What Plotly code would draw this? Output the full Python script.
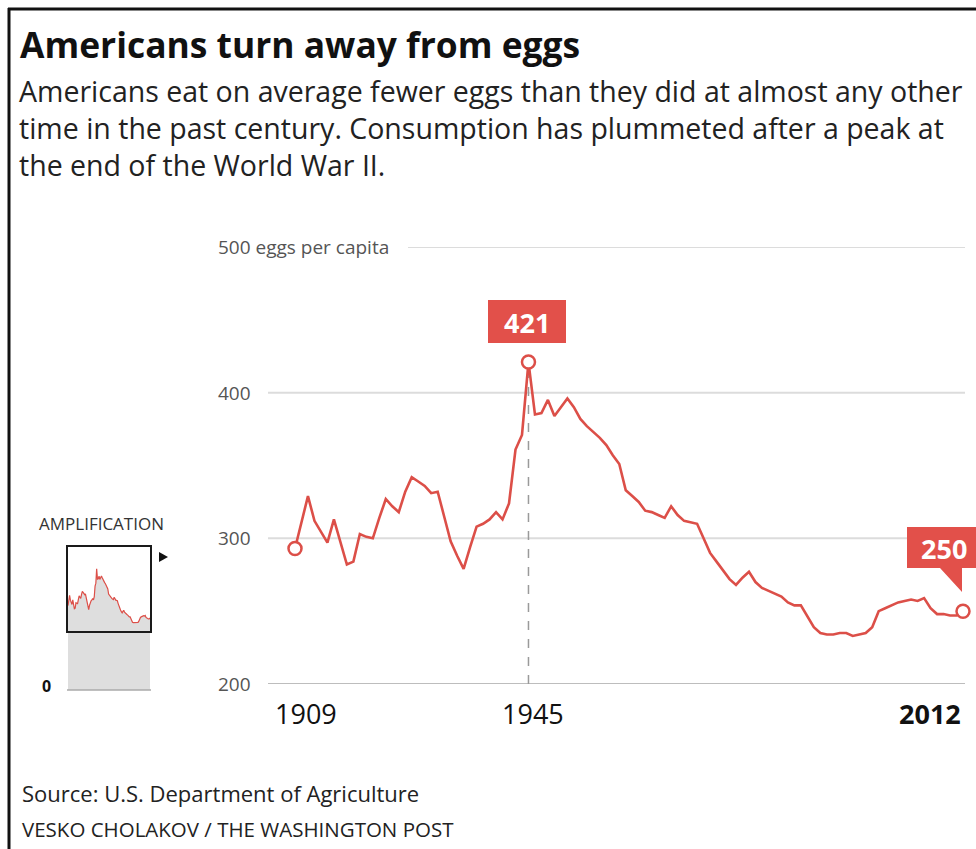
import plotly.graph_objects as go

# ---------------- data ----------------
years = list(range(1909, 2013))
eggs_per_capita = [
    293, 311, 329, 312, 304, 297, 313, 297, 282, 284,   # 1909-1918
    303, 301, 300, 314, 327, 322, 318, 332, 342, 339,   # 1919-1928
    336, 331, 332, 315, 298, 288, 279, 294, 308, 310,   # 1929-1938
    313, 318, 313, 324, 361, 371, 421, 385, 386, 395,   # 1939-1948
    384, 390, 396, 390, 382, 377, 373, 369, 364, 357,   # 1949-1958
    351, 333, 329, 325, 319, 318, 316, 314, 322, 316,   # 1959-1968
    312, 311, 310, 300, 290, 284, 278, 272, 268, 273,   # 1969-1978
    277, 270, 266, 264, 262, 260, 256, 254, 254, 246,   # 1979-1988
    239, 235, 234, 234, 235, 235, 233, 234, 235, 239,   # 1989-1998
    250, 252, 254, 256, 257, 258, 257, 259, 252, 248,   # 1999-2008
    248, 247, 247, 250,                                 # 2009-2012
]
assert len(years) == len(eggs_per_capita)

highlight_years = [1909, 1945, 2012]
highlight_vals = [eggs_per_capita[years.index(y)] for y in highlight_years]
y_ticks = [200, 300, 400, 500]
x_tick_labels = ["1909", "1945", "2012"]

title = "Americans turn away from eggs"
subtitle_lines = [
    "Americans eat on average fewer eggs than they did at almost any other",
    "time in the past century. Consumption has plummeted after a peak at",
    "the end of the World War II.",
]
source = "Source: U.S. Department of Agriculture"
credit = "VESKO CHOLAKOV / THE WASHINGTON POST"

# ---------------- style ----------------
W, H = 976, 849
RED = "#dc4f48"
BOX_RED = "#e2504a"
FONT = "Open Sans, Liberation Sans, Arial, sans-serif"


def px(x):
    return x / W


def py(y):
    return 1 - y / H


# main axis pixel calibration
X_L, X_R = 268, 965
PX_1909, PX_2012 = 295, 963
slope = (PX_2012 - PX_1909) / (2012 - 1909)
x_r0 = 1909 - (PX_1909 - X_L) / slope
x_r1 = x_r0 + (X_R - X_L) / slope

fig = go.Figure()

fig.add_trace(go.Scatter(
    x=years, y=eggs_per_capita, mode="lines",
    line=dict(color=RED, width=2.6), hoverinfo="x+y", cliponaxis=False,
    xaxis="x", yaxis="y",
))
fig.add_trace(go.Scatter(
    x=highlight_years, y=highlight_vals, mode="markers",
    marker=dict(size=13, color="white", line=dict(color=RED, width=2.5)),
    cliponaxis=False, xaxis="x", yaxis="y",
))

# inset (amplification)
fig.add_trace(go.Scatter(
    x=years, y=eggs_per_capita, mode="lines", fill="tozeroy",
    fillcolor="#dedede", line=dict(color=RED, width=1.2),
    xaxis="x2", yaxis="y2", hoverinfo="skip",
))

shapes = []
# gridlines
for v in y_ticks:
    x0 = px(408) if v == 500 else px(X_L)
    shapes.append(dict(type="line", xref="paper", yref="y", x0=x0, x1=px(X_R),
                       y0=v, y1=v,
                       line=dict(color="#bdbdbd" if v == 200 else "#dcdcdc", width=2),
                       layer="below"))
# dashed peak line
shapes.append(dict(type="line", xref="x", yref="y", x0=1945, x1=1945,
                   y0=200, y1=highlight_vals[1] - 5,
                   line=dict(color="#9a9a9a", width=1.5, dash="dash"), layer="below"))
# 421 box
shapes.append(dict(type="rect", xref="paper", yref="paper",
                   x0=px(488), x1=px(566), y0=py(343), y1=py(300),
                   fillcolor=BOX_RED, line=dict(width=0)))
# 250 callout box + pointer
shapes.append(dict(type="path", xref="paper", yref="paper",
                   path=(f"M {px(907)},{py(527)} L {px(980)},{py(527)} L {px(980)},{py(568)} "
                         f"L {px(962)},{py(568)} L {px(962)},{py(592)} L {px(940)},{py(568)} "
                         f"L {px(907)},{py(568)} Z"),
                   fillcolor=BOX_RED, line=dict(width=0)))
# inset frame, baseline, arrow
shapes.append(dict(type="rect", xref="paper", yref="paper",
                   x0=px(67), x1=px(151), y0=py(632), y1=py(546),
                   line=dict(color="#1a1a1a", width=2)))
shapes.append(dict(type="line", xref="paper", yref="paper",
                   x0=px(67), x1=px(151), y0=py(690), y1=py(690),
                   line=dict(color="#aaaaaa", width=1.5)))
shapes.append(dict(type="path", xref="paper", yref="paper",
                   path=f"M {px(159)},{py(552)} L {px(168)},{py(557)} L {px(159)},{py(562)} Z",
                   fillcolor="#111111", line=dict(width=0)))
# outer border (top and left)
shapes.append(dict(type="line", xref="paper", yref="paper",
                   x0=px(8), x1=px(980), y0=py(9), y1=py(9),
                   line=dict(color="#111111", width=3)))
shapes.append(dict(type="line", xref="paper", yref="paper",
                   x0=px(9), x1=px(9), y0=py(8), y1=py(852),
                   line=dict(color="#111111", width=3)))

ann = []
ann.append(dict(text=f"<b>{title}</b>", xref="paper", yref="paper", x=px(18), y=py(44),
                xanchor="left", yanchor="middle", showarrow=False,
                font=dict(family=FONT, size=35.4, color="#111111")))
for i, line in enumerate(subtitle_lines):
    ann.append(dict(text=line, xref="paper", yref="paper", x=px(17), y=py(91 + 37 * i),
                    xanchor="left", yanchor="middle", showarrow=False,
                    font=dict(family=FONT, size=28.5, color="#222222")))
# y tick labels
for v in y_ticks:
    label = f"{v} eggs per capita" if v == 500 else str(v)
    ann.append(dict(text=label, xref="paper", yref="y", x=px(216), y=v,
                    xanchor="left", yanchor="middle", showarrow=False,
                    font=dict(family=FONT, size=19, color="#555555")))
# x tick labels
for lab, shift in zip(x_tick_labels, [11, 5, 0]):
    yr = int(lab)
    txt = f"<b>{lab}</b>" if yr == 2012 else lab
    ann.append(dict(text=txt, xref="x", yref="paper", x=yr, y=py(713),
                    xanchor="right" if yr == 2012 else "center", yanchor="middle",
                    xshift=shift, showarrow=False,
                    font=dict(family=FONT, size=27, color="#111111")))
# value labels
ann.append(dict(text=f"<b>{highlight_vals[1]}</b>", xref="paper", yref="paper",
                x=px(527), y=py(322), xanchor="center", yanchor="middle", showarrow=False,
                font=dict(family=FONT, size=27, color="white")))
ann.append(dict(text=f"<b>{highlight_vals[2]}</b>", xref="paper", yref="paper",
                x=px(944), y=py(548), xanchor="center", yanchor="middle", showarrow=False,
                font=dict(family=FONT, size=27, color="white")))
# inset labels
ann.append(dict(text="AMPLIFICATION", xref="paper", yref="paper", x=px(101), y=py(523),
                xanchor="center", yanchor="middle", showarrow=False,
                font=dict(family=FONT, size=17, color="#333333")))
ann.append(dict(text="<b>0</b>", xref="paper", yref="paper", x=px(46), y=py(686),
                xanchor="center", yanchor="middle", showarrow=False,
                font=dict(family=FONT, size=16, color="#111111")))
# footer
ann.append(dict(text=source, xref="paper", yref="paper", x=px(20), y=py(793),
                xanchor="left", yanchor="middle", showarrow=False,
                font=dict(family=FONT, size=22, color="#222222")))
ann.append(dict(text=credit, xref="paper", yref="paper", x=px(20), y=py(829),
                xanchor="left", yanchor="middle", showarrow=False,
                font=dict(family=FONT, size=20.5, color="#222222")))

fig.update_layout(
    width=W, height=H, margin=dict(l=0, r=0, t=0, b=0),
    paper_bgcolor="white", plot_bgcolor="rgba(0,0,0,0)",
    showlegend=False, hovermode="closest",
    xaxis=dict(domain=[px(X_L), px(X_R)], range=[x_r0, x_r1], visible=False, fixedrange=True),
    yaxis=dict(domain=[py(684), py(247)], range=[200, 500], visible=False, fixedrange=True),
    xaxis2=dict(domain=[px(68), px(150)], range=[1909, 2012], visible=False,
                anchor="y2", fixedrange=True),
    yaxis2=dict(domain=[py(690), py(546)], range=[0, 500], visible=False,
                anchor="x2", fixedrange=True),
    shapes=shapes, annotations=ann,
)

fig.write_html("out.html")
